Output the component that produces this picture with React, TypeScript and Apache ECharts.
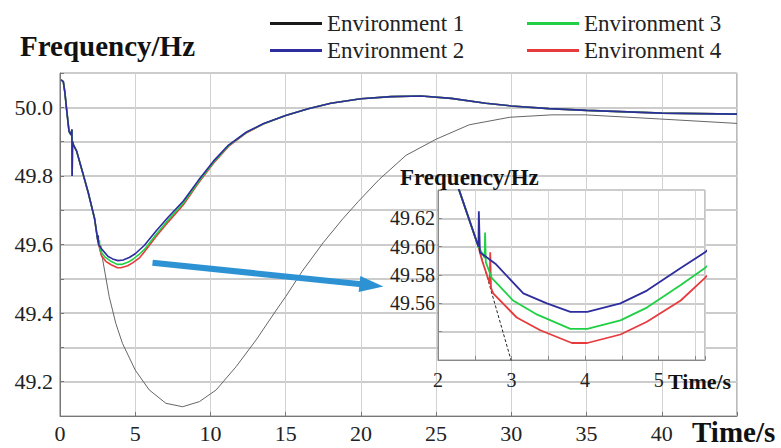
import React, { useEffect, useRef } from 'react';
import * as echarts from 'echarts';

const SERIF = "'Liberation Serif', 'Times New Roman', serif";

const envNames = ['Environment 1', 'Environment 2', 'Environment 3', 'Environment 4'];
const envColors = ['#1a1a1a', '#2d2d9e', '#1fd045', '#e63a3c'];

// ---- Main plot data: time (s) / frequency (Hz) ----
// shared part (all environments coincide)
const sharedT = [0.07, 0.22, 0.33, 0.44, 0.6, 0.73, 0.79, 0.81, 0.83, 0.9, 1.1, 1.44, 1.88, 2.3, 2.5];
const sharedF = [50.08, 50.075, 50.041, 49.993, 49.93, 49.92, 49.935, 49.8, 49.9, 49.89, 49.873, 49.82, 49.751, 49.675, 49.615];

const env1T = [2.6, 2.82, 3.27, 3.71, 4.15, 5.0, 5.93, 7.04, 8.15, 9.27, 10.38, 11.71, 13.04, 14.38, 15.0, 16.1, 17.49, 18.8, 19.82, 21.2, 23.0, 25.0, 27.2, 29.9, 32.7, 34.9, 39.85, 45.0];
const env1F = [49.595, 49.56, 49.448, 49.37, 49.312, 49.234, 49.176, 49.137, 49.127, 49.142, 49.176, 49.244, 49.322, 49.409, 49.448, 49.522, 49.605, 49.675, 49.725, 49.789, 49.86, 49.907, 49.949, 49.971, 49.978, 49.978, 49.966, 49.953];

const env2T = [2.53, 2.54, 2.56, 2.8, 3.2, 3.5, 3.85, 4.2, 4.6, 5.0, 5.6, 6.4, 7.2, 8.2, 9.2, 10.2, 11.2, 12.4, 13.5, 15, 16.5, 18, 20, 22, 24, 26, 28.3, 30, 32.5, 35, 40, 45];
const env2F = [49.608, 49.627, 49.6, 49.585, 49.565, 49.558, 49.553, 49.555, 49.562, 49.573, 49.597, 49.64, 49.68, 49.727, 49.787, 49.843, 49.89, 49.928, 49.952, 49.976, 49.996, 50.012, 50.025, 50.031, 50.033, 50.026, 50.012, 50.004, 49.996, 49.991, 49.983, 49.98];

const env3T = [2.6, 2.62, 2.64, 2.75, 3.0, 3.35, 3.8, 4.1, 4.5, 4.85, 5.3, 5.6, 6.4, 7.2, 8.2, 9.2, 10.2, 11.2, 12.4, 13.5, 15, 16.5, 18, 20, 22, 24, 26, 28.3, 30, 32.5, 35, 40, 45];
const env3F = [49.597, 49.612, 49.592, 49.577, 49.563, 49.552, 49.542, 49.542, 49.548, 49.557, 49.573, 49.585, 49.63, 49.672, 49.721, 49.783, 49.84, 49.888, 49.927, 49.951, 49.976, 49.996, 50.012, 50.025, 50.031, 50.033, 50.026, 50.012, 50.004, 49.996, 49.991, 49.983, 49.98];

const env4T = [2.69, 2.7, 2.72, 2.78, 3.07, 3.4, 3.82, 4.05, 4.5, 4.85, 5.3, 5.6, 6.4, 7.2, 8.2, 9.2, 10.2, 11.2, 12.4, 13.5, 15, 16.5, 18, 20, 22, 24, 26, 28.3, 30, 32.5, 35, 40, 45];
const env4F = [49.578, 49.598, 49.572, 49.566, 49.55, 49.541, 49.532, 49.532, 49.538, 49.547, 49.562, 49.578, 49.624, 49.666, 49.716, 49.779, 49.837, 49.886, 49.926, 49.951, 49.976, 49.996, 50.012, 50.025, 50.031, 50.033, 50.026, 50.012, 50.004, 49.996, 49.991, 49.983, 49.98];

// ---- Inset (zoom on 2 s .. 5.6 s) ----
const inSharedT = [2.0, 2.28, 2.55];
const inSharedF = [49.69, 49.641, 49.6];
const inEnv1T = [3.02, 3.27];
const inEnv1F = [49.515, 49.448];
const inEnv2T = [2.555, 2.57, 2.78, 3.16, 3.48, 3.8, 4.03, 4.48, 4.84, 5.3, 5.63, 5.8];
const inEnv2F = [49.625, 49.596, 49.588, 49.567, 49.56, 49.554, 49.554, 49.56, 49.569, 49.585, 49.596, 49.604];
const inEnv3T = [2.635, 2.64, 2.65, 2.73, 3.02, 3.35, 3.8, 4.03, 4.48, 4.84, 5.3, 5.63, 5.8];
const inEnv3F = [49.592, 49.61, 49.589, 49.578, 49.562, 49.552, 49.542, 49.542, 49.548, 49.557, 49.573, 49.585, 49.593];
const inEnv4T = [2.6, 2.705, 2.71, 2.72, 2.75, 3.07, 3.39, 3.82, 4.03, 4.48, 4.84, 5.3, 5.63, 5.8];
const inEnv4F = [49.59, 49.574, 49.596, 49.571, 49.567, 49.55, 49.541, 49.532, 49.532, 49.538, 49.547, 49.562, 49.578, 49.587];

// arrow annotation (data coordinates)
const arrowFrom = [6.15, 49.547];
const arrowTo = [20.7, 49.481];

const zip = (t: number[], f: number[]) => t.map((x, i) => [x, f[i]]);

export default function App() {
  const ref = useRef<HTMLDivElement>(null);
  useEffect(() => {
    document.body.style.margin = '0';
    const chart = echarts.init(ref.current!, undefined, { renderer: 'svg' });

    const mainData = [
      zip([...sharedT, ...env1T], [...sharedF, ...env1F]),
      zip([...sharedT, ...env2T], [...sharedF, ...env2F]),
      zip([...sharedT, ...env3T], [...sharedF, ...env3F]),
      zip([...sharedT, ...env4T], [...sharedF, ...env4F]),
    ];
    const insetData = [
      zip([...inSharedT, ...inEnv1T], [...inSharedF, ...inEnv1F]),
      zip([...inSharedT, ...inEnv2T], [...inSharedF, ...inEnv2F]),
      zip([...inSharedT, ...inEnv3T], [...inSharedF, ...inEnv3F]),
      zip([...inSharedT, ...inEnv4T], [...inSharedF, ...inEnv4F]),
    ];
    const order = [0, 3, 2, 1];
    const series: any[] = [];
    order.forEach((i) => {
      series.push({
        type: 'line', name: envNames[i], xAxisIndex: 0, yAxisIndex: 0,
        data: mainData[i], symbol: 'none', z: 3,
        lineStyle: i === 0 ? { color: '#666', width: 1 } : { color: envColors[i], width: 1.6 },
        itemStyle: { color: envColors[i] },
        ...(i === 0
          ? {
              markLine: {
                silent: true, symbol: ['none', 'triangle'], symbolSize: [16, 24],
                label: { show: false },
                lineStyle: { color: '#2d92d4', width: 6, type: 'solid' },
                itemStyle: { color: '#2d92d4' },
                data: [[{ coord: arrowFrom }, { coord: arrowTo }]],
              },
            }
          : {}),
      });
    });
    order.forEach((i) => {
      series.push({
        type: 'line', name: envNames[i], xAxisIndex: 1, yAxisIndex: 1,
        data: insetData[i], symbol: 'none', z: 12, clip: true,
        lineStyle: i === 0 ? { color: '#222', width: 1, type: [3, 2] } : { color: envColors[i], width: 1.8 },
        itemStyle: { color: envColors[i] },
      });
    });

    const legendText = { fontFamily: SERIF, fontSize: 23, color: '#222', lineHeight: 23 };
    const legendItem = (i: number) => ({ name: envNames[i], icon: 'rect', itemStyle: { color: envColors[i] } });

    chart.setOption({
      animation: false,
      backgroundColor: '#fff',
      legend: [
        { orient: 'vertical', left: 265, top: 7, itemWidth: 52, itemHeight: 3, itemGap: 4,
          textStyle: legendText, data: [legendItem(0), legendItem(1)], selectedMode: false },
        { orient: 'vertical', left: 522, top: 7, itemWidth: 52, itemHeight: 3, itemGap: 4,
          textStyle: legendText, data: [legendItem(2), legendItem(3)], selectedMode: false },
      ],
      grid: [
        { left: 60, top: 73, right: 44, bottom: 32, show: true, borderColor: '#777', borderWidth: 1 },
        { left: 438, top: 190, width: 267, height: 170, show: true, backgroundColor: '#fff', borderColor: '#888', borderWidth: 1, z: 10 },
      ],
      xAxis: [
        {
          type: 'value', gridIndex: 0, min: 0, max: 45, interval: 5, z: 1,
          axisLine: { lineStyle: { color: '#777' } },
          axisTick: { show: true, inside: true, length: 4, lineStyle: { color: '#777' } },
          splitLine: { show: true, lineStyle: { color: '#d2d2d2', width: 1 } },
          axisLabel: { fontFamily: SERIF, fontSize: 22, color: '#222', margin: 6,
            formatter: (v: number) => (v >= 45 ? '' : String(Math.round(v))) },
        },
        {
          type: 'value', gridIndex: 1, min: 2, max: 5.63, interval: 0.5, z: 11,
          axisLine: { lineStyle: { color: '#888' } },
          axisTick: { show: true, inside: true, length: 4, lineStyle: { color: '#888' } },
          splitLine: { show: true, lineStyle: { color: '#d4d4d4', width: 1 } },
          axisLabel: { fontFamily: SERIF, fontSize: 20, color: '#222', margin: 10,
            formatter: (v: number) => (Math.abs(v - Math.round(v)) < 1e-6 ? String(Math.round(v)) : '') },
        },
      ],
      yAxis: [
        {
          type: 'value', gridIndex: 0, min: 49.1, max: 50.1, interval: 0.1, z: 1,
          axisLine: { show: true, lineStyle: { color: '#777' } },
          axisTick: { show: true, inside: true, length: 4, lineStyle: { color: '#777' } },
          splitLine: { show: true, lineStyle: { color: '#cccccc', width: 2 } },
          axisLabel: { fontFamily: SERIF, fontSize: 22, color: '#222', margin: 7,
            formatter: (v: number) => (Math.round(v * 10) % 2 === 0 ? v.toFixed(1) : '') },
        },
        {
          type: 'value', gridIndex: 1, min: 49.52, max: 49.64, interval: 0.02, z: 11,
          axisLine: { show: true, lineStyle: { color: '#888' } },
          axisTick: { show: true, inside: true, length: 4, lineStyle: { color: '#888' } },
          splitLine: { show: true, lineStyle: { color: '#cccccc', width: 2 } },
          axisLabel: { fontFamily: SERIF, fontSize: 20, color: '#222', margin: 3,
            formatter: (v: number) => (v > 49.555 && v < 49.625 ? v.toFixed(2) : '') },
        },
      ],
      graphic: [
        { type: 'text', x: 20, y: 46, z: 20, style: { text: 'Frequency/Hz', fontFamily: SERIF, fontSize: 29, fontWeight: 'bold', fill: '#111', verticalAlign: 'middle' } },
        { type: 'text', x: 692, y: 432, z: 20, style: { text: 'Time/s', fontFamily: SERIF, fontSize: 29, fontWeight: 'bold', fill: '#111', verticalAlign: 'middle' } },
        { type: 'text', x: 400, y: 177, z: 20, style: { text: 'Frequency/Hz', fontFamily: SERIF, fontSize: 23, fontWeight: 'bold', fill: '#111', verticalAlign: 'middle' } },
        { type: 'text', x: 668, y: 381, z: 20, style: { text: 'Time/s', fontFamily: SERIF, fontSize: 22, fontWeight: 'bold', fill: '#111', verticalAlign: 'middle' } },
      ],
      series,
    });
    return () => chart.dispose();
  }, []);
  return <div ref={ref} style={{ width: 781, height: 448 }} />;
}
